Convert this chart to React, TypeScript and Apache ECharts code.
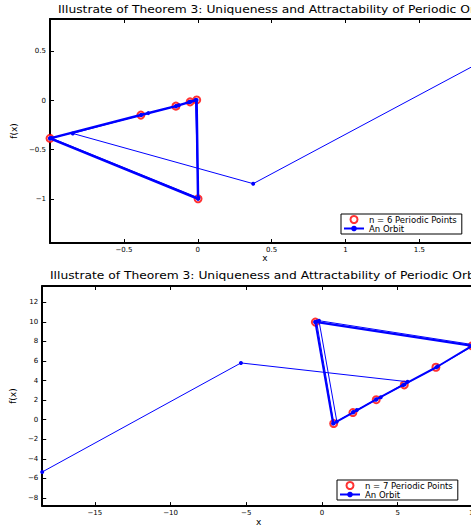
import React, { useEffect, useRef } from "react";
import * as echarts from "echarts";

const FONT = "DejaVu Sans";
const TITLE = "Illustrate of Theorem 3: Uniqueness and Attractability of Periodic Orbit";

// ---- top panel (n = 6) ----
const periodicPoints6: number[][] = [
  [-1.0, -0.385], [-0.385, -0.148], [-0.148, -0.057], [-0.052, -0.014], [-0.007, 0.006], [0.002, -1.0],
];
const orbit6Transient: number[][] = [
  [1.894, 0.375], [0.375, -0.846], [-0.846, -0.335], [-0.335, -0.128], [-0.128, -0.048],
  [-0.048, -0.012], [-0.012, 0.004], [0.004, -0.99], [-0.99, -0.382], [-0.382, -0.147],
  [-0.147, -0.057], [-0.057, -0.015], [-0.015, 0.005], [0.003, -0.998], [-0.998, -0.385],
];
const orbit6Cycle: number[][] = [
  [-1.0, -0.385], [-0.385, -0.148], [-0.148, -0.057], [-0.057, -0.016], [-0.008, 0.005], [0.002, -1.0], [-1.0, -0.385],
];
const xTicks6 = [-0.5, 0, 0.5, 1, 1.5];
const yTicks6 = [-1, -0.5, 0, 0.5];

// ---- bottom panel (n = 7) ----
const periodicPoints7: number[][] = [
  [-0.44, 9.98], [9.9, 7.55], [7.52, 5.36], [5.43, 3.55], [3.58, 2.04], [2.04, 0.73], [0.77, -0.4],
];
const orbit7Transient: number[][] = [
  [-18.47, -5.35], [-5.35, 5.8], [5.65, 3.88], [3.88, 2.3], [2.3, 0.98], [0.98, -0.2],
  [-0.2, 10.12], [10.1, 7.64], [7.64, 5.45], [5.45, 3.6], [3.6, 2.08], [2.08, 0.78],
  [0.78, -0.36], [-0.36, 10.03], [9.95, 7.58],
];
const orbit7Cycle: number[][] = [
  [-0.44, 9.98], [9.9, 7.55], [7.55, 5.36], [5.36, 3.55], [3.55, 2.04], [2.04, 0.73], [0.73, -0.4], [-0.44, 9.98],
];
const xTicks7 = [-15, -10, -5, 0, 5, 10];
const yTicks7 = [-8, -6, -4, -2, 0, 2, 4, 6, 8, 10, 12];

const fmt = (v: number) => (v < 0 ? "\u2212" + String(-v) : String(v));

function axisX(gridIndex: number, min: number, max: number, ticks: number[], top: boolean) {
  return {
    type: "value",
    gridIndex,
    min,
    max,
    position: top ? "top" : "bottom",
    name: top ? "" : "x",
    nameLocation: "middle",
    nameGap: 10,
    nameTextStyle: { fontFamily: FONT, fontSize: 9, color: "#000" },
    axisLine: { show: true, onZero: false, lineStyle: { color: "#000", width: 2 } },
    axisTick: { show: true, inside: true, length: 4, customValues: ticks, lineStyle: { color: "#000", width: 1 } },
    axisLabel: {
      show: !top,
      customValues: ticks,
      formatter: fmt,
      margin: 3,
      fontFamily: FONT,
      fontSize: 7,
      color: "#000",
    },
    splitLine: { show: false },
  };
}

function axisY(gridIndex: number, min: number, max: number, ticks: number[], gap: number) {
  return {
    type: "value",
    gridIndex,
    min,
    max,
    name: "f(x)",
    nameLocation: "middle",
    nameGap: gap,
    nameRotate: 90,
    nameTextStyle: { fontFamily: FONT, fontSize: 9, color: "#000" },
    axisLine: { show: true, onZero: false, lineStyle: { color: "#000", width: 2 } },
    axisTick: { show: true, inside: true, length: 4, customValues: ticks, lineStyle: { color: "#000", width: 1 } },
    axisLabel: {
      customValues: ticks,
      formatter: fmt,
      margin: 4,
      fontFamily: FONT,
      fontSize: 7,
      color: "#000",
    },
    splitLine: { show: false },
  };
}

function pointsSeries(name: string, idx: number, data: number[][]) {
  return {
    type: "scatter",
    name,
    xAxisIndex: idx * 2,
    yAxisIndex: idx,
    data,
    symbol: "emptyCircle",
    symbolSize: 7,
    itemStyle: { color: "#ff0000", borderColor: "#ff0000", borderWidth: 2 },
    z: 2,
  };
}

function orbitSeries(idx: number, data: number[][], width: number) {
  return {
    type: "line",
    name: "An Orbit",
    xAxisIndex: idx * 2,
    yAxisIndex: idx,
    data,
    symbol: "circle",
    symbolSize: 4,
    showSymbol: true,
    lineStyle: { color: "#0000ff", width },
    itemStyle: { color: "#0000ff" },
    z: 3,
  };
}

function legend(left: number, top: number, first: string) {
  return {
    data: [first, "An Orbit"],
    orient: "vertical",
    left,
    top,
    padding: [1, 5, 1, 2],
    itemGap: 0,
    itemWidth: 20,
    itemHeight: 7,
    borderColor: "#000",
    borderWidth: 1,
    borderRadius: 0,
    backgroundColor: "#fff",
    selectedMode: false,
    textStyle: { fontFamily: FONT, fontSize: 8.5, lineHeight: 7.5, color: "#000" },
  };
}

export default function App() {
  const ref = useRef<HTMLDivElement>(null);
  useEffect(() => {
    if (!ref.current) return;
    const chart = echarts.init(ref.current, null, { renderer: "svg" });
    chart.setOption({
      animation: false,
      backgroundColor: "#fff",
      grid: [
        { left: 50, top: 19, width: 430, height: 224 },
        { left: 42, top: 286, width: 433, height: 224 },
      ],
      xAxis: [
        axisX(0, -1, 1.91, xTicks6, false),
        axisX(0, -1, 1.91, xTicks6, true),
        axisX(1, -18.47, 10.1, xTicks7, false),
        axisX(1, -18.47, 10.1, xTicks7, true),
      ],
      yAxis: [axisY(0, -1.45, 0.83, yTicks6, 26), axisY(1, -8.84, 13.67, yTicks7, 17)],
      legend: [legend(341, 214, "n = 6 Periodic Points"), legend(337, 480, "n = 7 Periodic Points")],
      graphic: [
        {
          type: "text",
          x: 58,
          y: 10,
          scaleX: 1.23,
          style: { text: TITLE, fontFamily: FONT, fontSize: 10, fill: "#000", textAlign: "left", textVerticalAlign: "middle" },
        },
        {
          type: "text",
          x: 50,
          y: 276,
          scaleX: 1.23,
          style: { text: TITLE, fontFamily: FONT, fontSize: 10, fill: "#000", textAlign: "left", textVerticalAlign: "middle" },
        },
      ],
      series: [
        pointsSeries("n = 6 Periodic Points", 0, periodicPoints6),
        orbitSeries(0, orbit6Transient, 1),
        orbitSeries(0, orbit6Cycle, 2.5),
        pointsSeries("n = 7 Periodic Points", 1, periodicPoints7),
        orbitSeries(1, orbit7Transient, 1),
        orbitSeries(1, orbit7Cycle, 2),
      ],
    });
    return () => chart.dispose();
  }, []);
  return (
    <div style={{ position: "fixed", left: 0, top: 0, width: 471, height: 527, overflow: "hidden", background: "#fff" }}>
      <div ref={ref} style={{ width: 500, height: 527 }} />
    </div>
  );
}
